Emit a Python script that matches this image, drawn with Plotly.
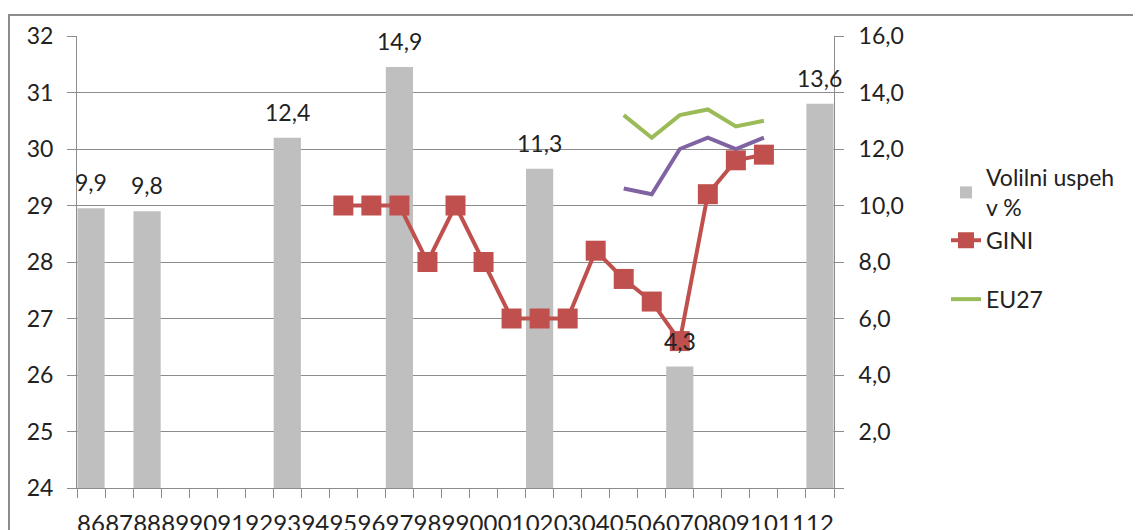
"""Volilni uspeh v % in GINI, 1986-2012."""

import plotly.graph_objects as go

# ─── podatki ─────────────────────────────────────────────────────────────────

leta = [f"{y % 100:02d}" for y in range(1986, 2013)]

volilni_uspeh = {"86": 9.9, "88": 9.8, "93": 12.4, "97": 14.9, "02": 11.3, "07": 4.3, "12": 13.6}

gini = {
    "95": 29, "96": 29, "97": 29, "98": 28, "99": 29, "00": 28, "01": 27,
    "02": 27, "03": 27, "04": 28.2, "05": 27.7, "06": 27.3, "07": 26.6,
    "08": 29.2, "09": 29.8, "10": 29.9,
}

slo = {"05": 29.3, "06": 29.2, "07": 30.0, "08": 30.2, "09": 30.0, "10": 30.2}
eu27 = {"05": 30.6, "06": 30.2, "07": 30.6, "08": 30.7, "09": 30.4, "10": 30.5}

desni_ticks = [0, 2, 4, 6, 8, 10, 12, 14, 16]

# ─── slog ────────────────────────────────────────────────────────────────────

FONT = "Lato, 'Open Sans', sans-serif"
GRID = "#8c8c8c"
# stran ima 8 px roba, zato je slika toliko manjša in vse premaknjeno
OFF = 8
W, H = 1141 - OFF, 530 - OFF
L, R, T, B = 77 - OFF, 834 - OFF, 36 - OFF, 488 - OFF


def _series(d):
    return [d.get(k) for k in leta]


def _fmt(v):
    return f"{v:.1f}".replace(".", ",")


fig = go.Figure()

# stolpci na glavni osi (desna stran), da so črte nad njimi
fig.add_trace(
    go.Bar(
        x=leta,
        y=_series(volilni_uspeh),
        name="Volilni uspeh<br>v %",
        marker={"color": "#bfbfbf", "line": {"width": 0}},
        legendgroup="a",
        yaxis="y",
    )
)
fig.add_trace(
    go.Scatter(
        x=leta,
        y=_series(gini),
        name="GINI",
        mode="lines+markers",
        line={"color": "#c0504d", "width": 4},
        marker={"symbol": "square", "size": 20, "color": "#c0504d"},
        legendgroup="a",
        yaxis="y2",
    )
)
fig.add_trace(
    go.Scatter(
        x=leta,
        y=_series(slo),
        name="",
        mode="lines",
        line={"color": "#8064a2", "width": 4},
        showlegend=False,
        yaxis="y2",
    )
)
fig.add_trace(
    go.Scatter(
        x=leta,
        y=_series(eu27),
        name="EU27",
        mode="lines",
        line={"color": "#9bbb59", "width": 4},
        legendgroup="b",
        yaxis="y2",
    )
)

# oznake vrednosti nad stolpci (x kot indeks kategorije)
for k, v in volilni_uspeh.items():
    fig.add_annotation(
        x=leta.index(k),
        y=v,
        xref="x",
        yref="y",
        text=_fmt(v),
        showarrow=False,
        yanchor="middle",
        yshift=26,
        font={"size": 23, "color": "#222", "family": FONT},
    )

# zunanji okvir
pw, ph = R - L, B - T
fig.add_shape(
    type="rect",
    xref="paper",
    yref="paper",
    x0=(1 - L) / pw,
    x1=(W + 10 - L) / pw,
    y0=(B - (H + 10)) / ph,
    y1=(B - (15 - OFF)) / ph,
    line={"color": "#8c8c8c", "width": 2},
    layer="below",
)

fig.update_layout(
    width=W,
    height=H,
    margin={"l": L, "r": W - R, "t": T, "b": H - B, "autoexpand": False},
    paper_bgcolor="white",
    plot_bgcolor="white",
    separators=", ",
    bargap=0.03,
    font={"family": FONT, "size": 23, "color": "#222"},
    showlegend=True,
    legend={
        "x": (938 - L) / pw,
        "xanchor": "left",
        "y": (B - 148) / ph,
        "yanchor": "top",
        "bgcolor": "rgba(0,0,0,0)",
        "tracegroupgap": 26,
        "traceorder": "grouped",
        "font": {"size": 23},
    },
    xaxis={
        "type": "category",
        "categoryorder": "array",
        "categoryarray": leta,
        "range": [-0.5, len(leta) - 0.5],
        "tickmode": "linear",
        "tick0": 0,
        "dtick": 1,
        "showgrid": False,
        "showline": True,
        "linecolor": GRID,
        "ticks": "outside",
        "tickson": "boundaries",
        "ticklen": 9,
        "tickcolor": GRID,
        "tickangle": 0,
        "tickfont": {"size": 24},
        "ticklabelstandoff": 14,
    },
    yaxis={
        "range": [0, 16],
        "side": "right",
        "tickvals": desni_ticks,
        "ticktext": ["" if t == 0 else _fmt(t) for t in desni_ticks],
        "showgrid": True,
        "gridcolor": GRID,
        "gridwidth": 1,
        "zeroline": False,
        "showline": True,
        "linecolor": GRID,
        "ticks": "outside",
        "ticklen": 9,
        "tickcolor": GRID,
        "ticklabelstandoff": 10,
    },
    yaxis2={
        "range": [24, 32],
        "dtick": 1,
        "side": "left",
        "overlaying": "y",
        "showgrid": False,
        "zeroline": False,
        "showline": True,
        "linecolor": GRID,
        "ticks": "outside",
        "ticklen": 9,
        "tickcolor": GRID,
        "ticklabelstandoff": 9,
    },
)

fig.write_html("out.html")
